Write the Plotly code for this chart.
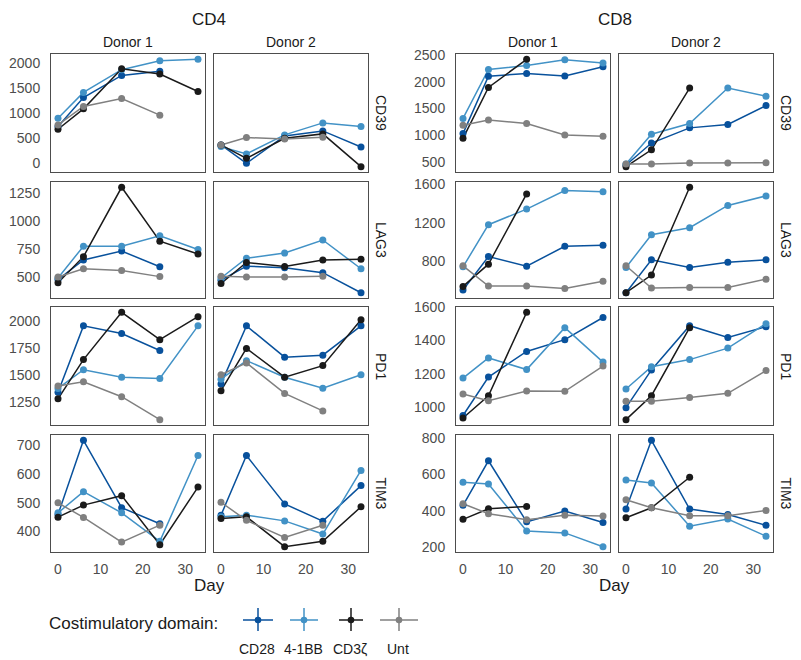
import plotly.graph_objects as go

days = [0, 6, 15, 24, 33]
domains = ["CD28", "4-1BB", "CD3ζ", "Unt"]
colors = ["#08519c", "#4292c6", "#1a1a1a", "#808080"]
cell_types = ["CD4", "CD8"]
donors = ["Donor 1", "Donor 2"]
markers = ["CD39", "LAG3", "PD1", "TIM3"]

# rows: CD28, 4-1BB, CD3ζ, Unt ; columns: days
cd4_d1_cd39 = [[725, 1308, 1751, 1832, None], [892, 1409, 1865, 2047, 2073], [671, 1080, 1886, 1778, 1429], [758, 1127, 1288, 953, None]]
cd4_d2_cd39 = [[356, -13, 537, 637, 315], [322, 174, 557, 798, 725], [355, 87, 490, 577, -80], [355, 503, 476, 510, None]]
cd4_d1_lag3 = [[480, 654, 733, 593, None], [494, 776, 776, 869, 747], [451, 683, 1299, 820, 706], [503, 576, 561, 506, None]]
cd4_d2_lag3 = [[474, 599, 584, 541, 363], [494, 669, 715, 831, 576], [445, 631, 596, 654, 660], [509, 503, 503, 509, None]]
cd4_d1_pd1 = [[1344, 1959, 1888, 1731, None], [1380, 1553, 1484, 1472, 1959], [1284, 1647, 2084, 1831, 2044], [1403, 1441, 1303, 1091, None]]
cd4_d2_pd1 = [[1422, 1959, 1669, 1688, 1959], [1466, 1637, 1484, 1381, 1506], [1359, 1750, 1484, 1591, 2016], [1506, 1616, 1334, 1172, None]]
cd4_d1_tim3 = [[459, 718, 483, 427, None], [465, 539, 465, 366, 665], [450, 492, 525, 354, 555], [500, 449, 363, 422, None]]
cd4_d2_tim3 = [[457, 665, 496, 436, 560], [451, 457, 437, 391, 613], [445, 451, 347, 366, 486], [502, 439, 379, 422, None]]

cd8_d1_cd39 = [[1030, 2102, 2153, 2109, 2279], [1314, 2229, 2304, 2412, 2349], [942, 1894, 2418, None, None], [1188, 1282, 1219, 1005, 979]]
cd8_d2_cd39 = [[443, 853, 1137, 1200, 1554], [462, 1017, 1219, 1882, 1730], [412, 727, 1882, None, None], [462, 462, 481, 481, 487]]
cd8_d1_lag3 = [[499, 848, 748, 956, 966], [741, 1181, 1344, 1538, 1524], [537, 769, 1503, None, None], [752, 540, 540, 516, 592]]
cd8_d2_lag3 = [[471, 814, 734, 790, 814], [734, 1077, 1150, 1382, 1482], [471, 655, 1572, None, None], [752, 520, 526, 526, 613]]
cd8_d1_pd1 = [[949, 1180, 1334, 1405, 1538], [1174, 1295, 1225, 1477, 1270], [934, 1068, 1569, None, None], [1078, 1037, 1096, 1094, 1246]]
cd8_d2_pd1 = [[996, 1223, 1489, 1418, 1483], [1108, 1242, 1285, 1354, 1501], [924, 1068, 1477, None, None], [1035, 1035, 1057, 1082, 1219]]
cd8_d1_tim3 = [[430, 676, 339, 399, 335], [557, 548, 289, 278, 202], [353, 411, 424, None, None], [439, 384, 351, 375, 371]]
cd8_d2_tim3 = [[410, 789, 410, 380, 320], [570, 554, 315, 355, 260], [362, 417, 585, None, None], [461, 417, 373, 373, 402]]

x_ticks = [0, 10, 20, 30]
cd4_y_ticks = [[0, 500, 1000, 1500, 2000], [500, 750, 1000, 1250], [1250, 1500, 1750, 2000], [400, 500, 600, 700]]
cd8_y_ticks = [[500, 1000, 1500, 2000, 2500], [800, 1200, 1600], [1000, 1200, 1400, 1600], [200, 400, 600, 800]]

panels = {
    "CD4": [[cd4_d1_cd39, cd4_d2_cd39], [cd4_d1_lag3, cd4_d2_lag3], [cd4_d1_pd1, cd4_d2_pd1], [cd4_d1_tim3, cd4_d2_tim3]],
    "CD8": [[cd8_d1_cd39, cd8_d2_cd39], [cd8_d1_lag3, cd8_d2_lag3], [cd8_d1_pd1, cd8_d2_pd1], [cd8_d1_tim3, cd8_d2_tim3]],
}
y_ticks = {"CD4": cd4_y_ticks, "CD8": cd8_y_ticks}

W, H = 801, 660
FONT = "Liberation Sans, Arial, Helvetica, sans-serif"
TICK_COL = "#4d4d4d"
BORDER = "#4d4d4d"

col_px = {"CD4": [(51, 205), (214, 368)], "CD8": [(456, 610), (619, 773)]}
row_px = [(54, 172), (182, 298), (307, 425), (435, 552)]

def fx(px):
    return px / W

def fy(py):
    return 1 - py / H

fig = go.Figure()
layout = {}
annotations = []
shapes = []

ax_i = 0
for ct in cell_types:
    for r, mk in enumerate(markers):
        # shared y range across donors in the row (ggplot 5% expansion)
        vals = [v for d in panels[ct][r] for s in d for v in s if v is not None]
        lo, hi = min(vals), max(vals)
        pad = (hi - lo) * 0.05
        yr = [lo - pad, hi + pad]
        for c in range(2):
            ax_i += 1
            sfx = "" if ax_i == 1 else str(ax_i)
            xa, ya = "x" + sfx, "y" + sfx
            data = panels[ct][r][c]
            for k in range(4):
                fig.add_trace(go.Scatter(
                    x=days, y=data[k], mode="lines", xaxis=xa, yaxis=ya,
                    line=dict(color=colors[k], width=1.5), showlegend=False,
                    hoverinfo="skip", connectgaps=False))
            for k in range(4):
                fig.add_trace(go.Scatter(
                    x=days, y=data[k], mode="markers", xaxis=xa, yaxis=ya,
                    marker=dict(color=colors[k], size=7, line=dict(width=0)),
                    showlegend=False, name=domains[k]))
            x0, x1 = col_px[ct][c]
            y0, y1 = row_px[r]
            layout["xaxis" + sfx] = dict(
                domain=[fx(x0), fx(x1)], anchor=ya, range=[-1.65, 34.65],
                showgrid=False, zeroline=False, showline=True, mirror=True,
                linecolor=BORDER, linewidth=1, ticks="", automargin=False,
                tickvals=x_ticks, showticklabels=(r == 3),
                tickfont=dict(family=FONT, size=14, color=TICK_COL),
                ticklabelstandoff=4)
            layout["yaxis" + sfx] = dict(
                domain=[fy(y1), fy(y0)], anchor=xa, range=yr,
                showgrid=False, zeroline=False, showline=True, mirror=True,
                linecolor=BORDER, linewidth=1, ticks="", automargin=False,
                tickvals=y_ticks[ct][r], showticklabels=(c == 0),
                tickfont=dict(family=FONT, size=14, color=TICK_COL),
                ticklabelstandoff=7)
        # row strip label
        annotations.append(dict(
            x=fx(col_px[ct][1][1] + 13), y=fy((row_px[r][0] + row_px[r][1]) / 2),
            xref="paper", yref="paper", text=mk, showarrow=False, textangle=90,
            font=dict(family=FONT, size=14, color="#1a1a1a"),
            xanchor="center", yanchor="middle"))
    # column strip labels
    for c in range(2):
        x0, x1 = col_px[ct][c]
        annotations.append(dict(
            x=fx((x0 + x1) / 2), y=fy(42), xref="paper", yref="paper",
            text=donors[c], showarrow=False,
            font=dict(family=FONT, size=14, color="#1a1a1a"),
            xanchor="center", yanchor="middle"))
    cx = (col_px[ct][0][0] + col_px[ct][1][1]) / 2
    annotations.append(dict(
        x=fx(cx), y=fy(20), xref="paper", yref="paper", text=ct, showarrow=False,
        font=dict(family=FONT, size=17, color="#1a1a1a"),
        xanchor="center", yanchor="middle"))
    annotations.append(dict(
        x=fx(cx), y=fy(585), xref="paper", yref="paper", text="Day", showarrow=False,
        font=dict(family=FONT, size=17, color="#1a1a1a"),
        xanchor="center", yanchor="middle"))

# legend (drawn manually, labels below keys)
annotations.append(dict(
    x=fx(47), y=fy(623), xref="paper", yref="paper", text="Costimulatory domain:",
    showarrow=False, font=dict(family=FONT, size=17, color="#1a1a1a"),
    xanchor="left", yanchor="middle"))
key_cx = [258, 304, 351, 399]
key_hw = [15, 14, 12, 19]
for k in range(4):
    cx, hw = key_cx[k], key_hw[k]
    shapes.append(dict(type="line", xref="paper", yref="paper",
                       x0=fx(cx - hw), x1=fx(cx + hw), y0=fy(620), y1=fy(620),
                       line=dict(color=colors[k], width=1.5)))
    shapes.append(dict(type="line", xref="paper", yref="paper",
                       x0=fx(cx), x1=fx(cx), y0=fy(608), y1=fy(631),
                       line=dict(color=colors[k], width=1.5)))
    shapes.append(dict(type="circle", xref="paper", yref="paper",
                       x0=fx(cx - 3.3), x1=fx(cx + 3.3), y0=fy(623.3), y1=fy(616.7),
                       fillcolor=colors[k], line=dict(width=0)))
    annotations.append(dict(
        x=fx(cx - 1), y=fy(649), xref="paper", yref="paper", text=domains[k],
        showarrow=False, font=dict(family=FONT, size=14, color="#1a1a1a"),
        xanchor="center", yanchor="middle"))

fig.update_layout(
    template="none",
    width=W, height=H, autosize=False,
    margin=dict(l=0, r=0, t=0, b=0, pad=0),
    paper_bgcolor="white", plot_bgcolor="white",
    showlegend=False, annotations=annotations, shapes=shapes,
    font=dict(family=FONT), **layout)

fig.write_html(
    "out.html",
    config={"displayModeBar": False},
    post_script="document.body.style.margin='0';document.body.style.overflow='hidden';",
)
